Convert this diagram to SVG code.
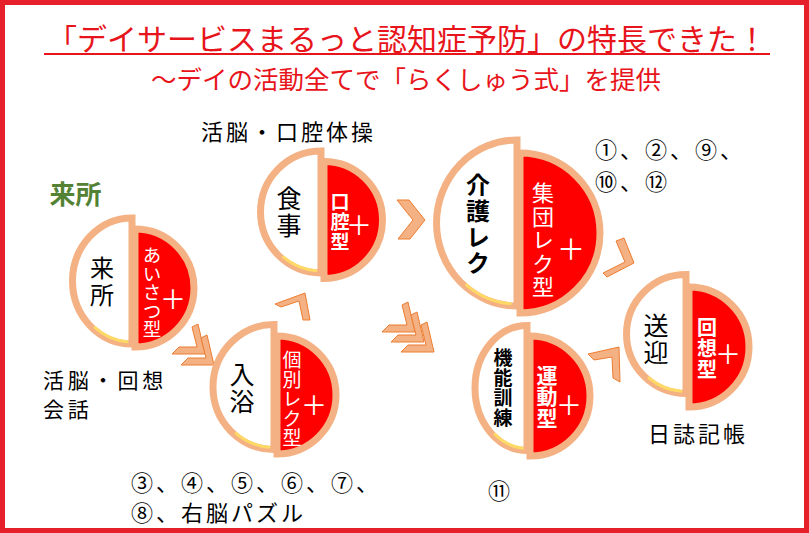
<svg xmlns="http://www.w3.org/2000/svg" width="809" height="533" viewBox="0 0 809 533">
<defs>
<style>
.t{font-family:"Noto Sans CJK JP","Noto Sans",sans-serif;}
.ring{stroke:#F4B183;stroke-width:7;}
.lh{fill:#fff;}
.rh{fill:#FF0000;}
.hl{fill:none;stroke:#FFD966;stroke-width:3;stroke-linecap:round;}
.chev{fill:#F4B183;stroke:#ED7D31;stroke-width:1;}
.v{writing-mode:vertical-rl;text-anchor:middle;dominant-baseline:central;}
.lt{fill:#000;}
.rt{fill:#fff;}
.plus{fill:#fff;font-size:26px;text-anchor:middle;dominant-baseline:central;}
.body{fill:#000;font-size:22px;letter-spacing:3px;dominant-baseline:central;}
.b{font-weight:bold;}
.title{fill:#E8141B;text-anchor:middle;dominant-baseline:central;}
</style>
<path id="chevDR" class="chev" d="M-7,-30 L0,0 L-33,0 L-26,-7 L-8,-7 L-13,-27 Z"/>
</defs>
<rect x="0" y="0" width="809" height="533" fill="#fff"/>
<rect x="2.5" y="2.5" width="804" height="528" fill="none" stroke="#E5202A" stroke-width="5"/>

<g id="title">
<text class="t title" x="407" y="37" font-size="30">「デイサービスまるっと認知症予防」の特長できた！</text>
<line x1="44" y1="54" x2="770" y2="54" stroke="#E8141B" stroke-width="2"/>
<text class="t title" x="406" y="77" font-size="25.5">～デイの活動全てで「らくしゅう式」を提供</text>
</g>

<g id="connectors">
<use href="#chevDR" transform="translate(205,354)"/>
<use href="#chevDR" transform="translate(214,365)"/>
<use href="#chevDR" transform="translate(415,332)"/>
<use href="#chevDR" transform="translate(424,342)"/>
<use href="#chevDR" transform="translate(434,352)"/>
<path class="chev" d="M275,304 L305,293 L310,320 L303,320 L299,301 L281,307 Z"/>
<path class="chev" d="M397,200 L409,200 L425,220 L410,239 L398,239 L413,220 Z"/>
<path class="chev" d="M616,241 L624,238 L634,263 L607,277 L603,273 L625,262 Z"/>
<path class="chev" d="M588,354 L619,347 L620,382 L613,378 L612,357 L594,360 Z"/>
</g>

<g id="node-raisho">
<path class="ring rh" d="M135,229 A59,59 0 0 1 135,347 Z"/>
<path class="ring lh" d="M132,218 A59.5,63 0 0 0 132,344 Z"/>
<path class="hl" d="M95,327.7 A57.5,61 0 0 0 127,341.8"/>
<text class="t v lt" x="102" y="283" style="font-size:24px;letter-spacing:3px">来所</text>
<text class="t v rt" x="152" y="292" style="font-size:18.5px">あいさつ型</text>
<text class="t plus" x="173" y="297">＋</text>
</g>

<g id="node-nyuyoku">
<path class="ring rh" d="M277,336 A59,59 0 0 1 277,454 Z"/>
<path class="ring lh" d="M274,324.5 A61,62.5 0 0 0 274,449.5 Z"/>
<path class="hl" d="M236.1,433.3 A59,60.5 0 0 0 268.9,447.3"/>
<text class="t v lt" x="242" y="388.5" style="font-size:25px;letter-spacing:2px">入浴</text>
<text class="t v rt" x="292" y="399.5" style="font-size:19px;letter-spacing:0.5px">個別レク型</text>
<text class="t plus" x="314" y="403">＋</text>
</g>

<g id="node-shokuji">
<path class="ring rh" d="M324,161.5 A58.5,58.5 0 0 1 324,278.5 Z"/>
<path class="ring lh" d="M321,151 A60.5,61 0 0 0 321,273 Z"/>
<path class="hl" d="M283.4,257.2 A58.5,59 0 0 0 315.9,270.8"/>
<text class="t v lt" x="289" y="212.5" style="font-size:25px;letter-spacing:2px">食事</text>
<text class="t v rt b" x="340" y="222.5" style="font-size:19px;letter-spacing:1px">口腔型</text>
<text class="t plus" x="359" y="223">＋</text>
</g>

<g id="node-kaigo">
<path class="ring rh" d="M520,153 A80,80 0 0 1 520,313 Z"/>
<path class="ring lh" d="M517,140 A80.5,83 0 0 0 517,306 Z"/>
<path class="hl" d="M466.5,285.1 A78.5,81 0 0 0 510.2,303.7"/>
<text class="t v lt b" x="478" y="225" style="font-size:24px;letter-spacing:2px">介護レク</text>
<text class="t v rt" x="543" y="240.7" style="font-size:22px;letter-spacing:1.5px">集団レク型</text>
<text class="t plus" x="571" y="248" style="font-size:28px">＋</text>
</g>

<g id="node-kinou">
<path class="ring rh" d="M530,336 A60,60 0 0 1 530,456 Z"/>
<path class="ring lh" d="M527,325.5 A52,62.5 0 0 0 527,450.5 Z"/>
<path class="hl" d="M494.9,434.3 A50,60.5 0 0 0 522.6,448.3"/>
<text class="t v lt b" x="503" y="388.5" style="font-size:19px;letter-spacing:1px">機能訓練</text>
<text class="t v rt b" x="547" y="396.7" style="font-size:21px;letter-spacing:0.5px">運動型</text>
<text class="t plus" x="569" y="403">＋</text>
</g>

<g id="node-sougei">
<path class="ring rh" d="M689,287 A60,60 0 0 1 689,407 Z"/>
<path class="ring lh" d="M686,274.5 A59.5,59.5 0 0 0 686,393.5 Z"/>
<path class="hl" d="M649,378 A57.5,57.5 0 0 0 681,391.3"/>
<text class="t v lt" x="656" y="339.5" style="font-size:25px;letter-spacing:2px">送迎</text>
<text class="t v rt b" x="707" y="348.5" style="font-size:20px;letter-spacing:1px">回想型</text>
<text class="t plus" x="728" y="352">＋</text>
</g>

<g id="labels">
<text class="t b" x="75.5" y="192" font-size="26" fill="#548235" text-anchor="middle" dominant-baseline="central">来所</text>
<text class="t body" x="201" y="130">活脳・口腔体操</text>
<text class="t body" x="43" y="379" style="font-size:21px;letter-spacing:3.8px">活脳・回想</text>
<text class="t body" x="43" y="408" style="font-size:21px;letter-spacing:3.8px">会話</text>
<text class="t body" x="595" y="148">①、②、⑨、</text>
<text class="t body" x="595" y="180">⑩、⑫</text>
<text class="t body" x="131" y="481">③、④、⑤、⑥、⑦、</text>
<text class="t body" x="131" y="511">⑧、右脳パズル</text>
<text class="t body" x="488" y="489">⑪</text>
<text class="t body" x="648" y="432">日誌記帳</text>
</g>
</svg>
